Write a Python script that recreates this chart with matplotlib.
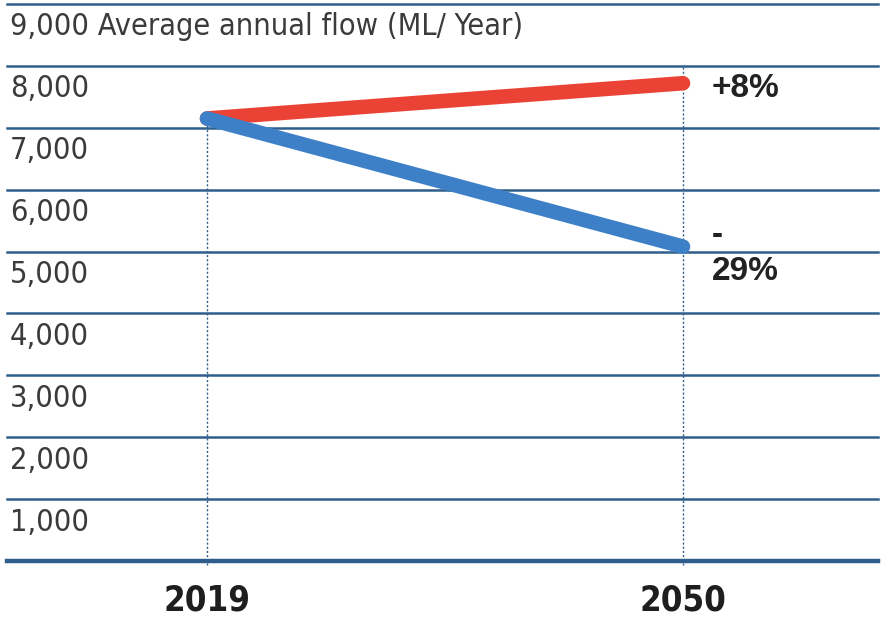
import matplotlib.pyplot as plt

years = ["2019", "2050"]
high_flow = [7150, 7720]
low_flow = [7150, 5080]
high_label = "+8%"
low_label = "-\n29%"
grid_values = [1000, 2000, 3000, 4000, 5000, 6000, 7000, 8000, 9000]
grid_labels = ["1,000", "2,000", "3,000", "4,000", "5,000", "6,000", "7,000", "8,000",
               "9,000 Average annual flow (ML/ Year)"]

navy = "#2f5e8c"
text_grey = "#3b3b3b"

fig = plt.figure(figsize=(8.84, 6.19), dpi=100)
ax = fig.add_axes([7 / 884, 58 / 619, 871 / 884, 557 / 619])
ax.set_xlim(-200 / 476, 1 + 195 / 476)
ax.set_ylim(0, 9000)
ax.axis("off")

x = list(range(len(years)))

# gridlines and their labels (labels sit just under each line)
for v, lab in zip(grid_values, grid_labels):
    ax.axhline(v, color=navy, lw=1.8, zorder=1, clip_on=False)
    ax.text(-200 / 476 + 3 / 476, v - 370, lab, ha="left", va="center",
            fontsize=22, color=text_grey, family="DejaVu Sans",
            fontstretch="condensed")
ax.axhline(0, color=navy, lw=3.2, zorder=1, clip_on=False)

# dotted verticals at each year
ax.plot([x[0], x[0]], [-60, high_flow[0]], color=navy, lw=1, ls=(0, (1.5, 1.5)), zorder=2,
        clip_on=False)
ax.plot([x[1], x[1]], [-60, 8000], color=navy, lw=1, ls=(0, (1.5, 1.5)), zorder=2,
        clip_on=False)

ax.plot(x, high_flow, color="#ea4335", lw=10.5, solid_capstyle="round", zorder=3)
ax.plot(x, low_flow, color="#3d80c8", lw=10.5, solid_capstyle="round", zorder=4)

ax.text(x[1] + 29 / 476, high_flow[1] - 90, high_label, ha="left", va="center",
        fontsize=24, fontweight="bold", color="#222222", family="Liberation Sans")
ax.text(x[1] + 29 / 476, low_flow[1] - 110, low_label, ha="left", va="center",
        fontsize=24, fontweight="bold", color="#222222", family="Liberation Sans",
        linespacing=1.2)

for xi, yr in zip(x, years):
    ax.text(xi, -640, yr, ha="center", va="center", fontsize=25, fontweight="bold",
            color="#1e1e1e", family="DejaVu Sans", fontstretch="condensed")

fig.savefig("out.png", dpi=100, facecolor="white")
